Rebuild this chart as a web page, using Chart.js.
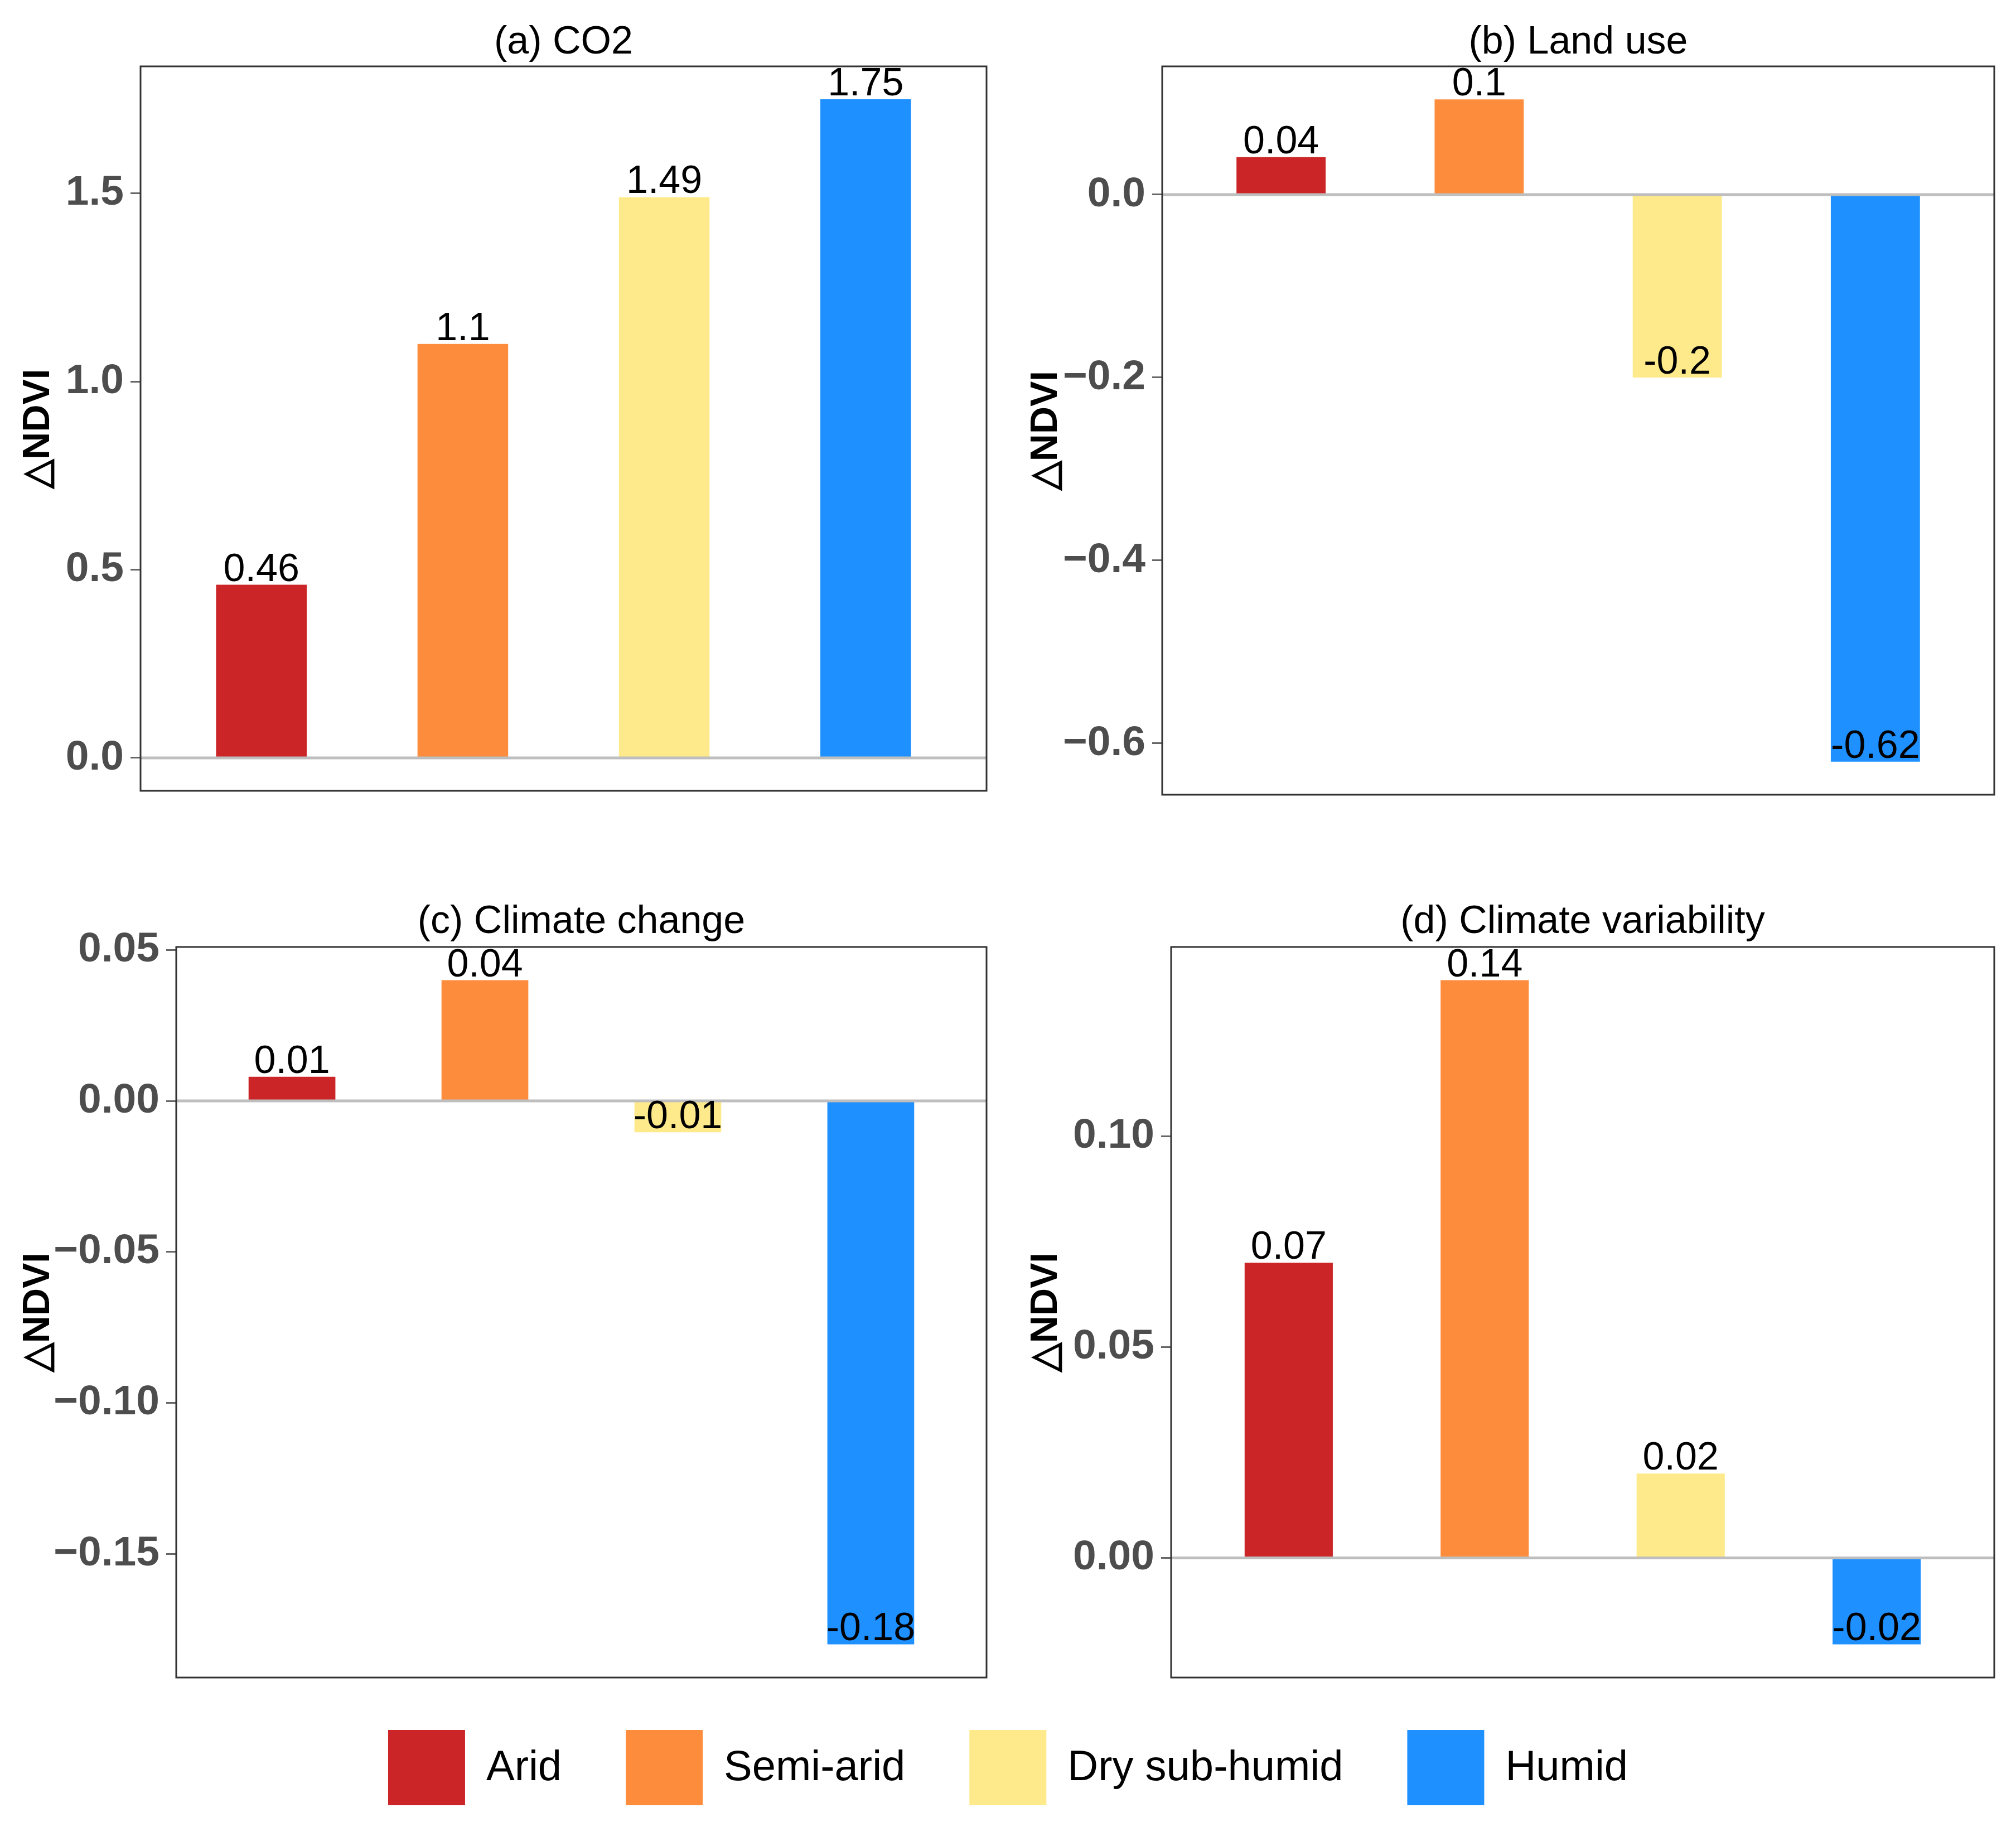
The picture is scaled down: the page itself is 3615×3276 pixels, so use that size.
<!DOCTYPE html>
<html>
<head>
<meta charset="utf-8">
<script src="https://cdn.jsdelivr.net/npm/chart.js@4.4.1/dist/chart.umd.min.js"></script>
<style>
html,body{margin:0;padding:0;background:#ffffff;}
body{width:3615px;height:3276px;position:relative;overflow:hidden;}
canvas{position:absolute;}
</style>
</head>
<body>
<canvas id="cA" width="1800" height="1480" style="left:0px;top:0px;width:1800px;height:1480px"></canvas>
<canvas id="cB" width="1815" height="1487" style="left:1800px;top:0px;width:1815px;height:1487px"></canvas>
<canvas id="cC" width="1800" height="1520" style="left:0px;top:1550px;width:1800px;height:1520px"></canvas>
<canvas id="cD" width="1815" height="1520" style="left:1800px;top:1550px;width:1815px;height:1520px"></canvas>
<canvas id="cE" width="3615" height="500" style="left:0px;top:2987px;width:3615px;height:500px"></canvas>
<script>
// ---------- data ----------
const categories = ['Arid', 'Semi-arid', 'Dry sub-humid', 'Humid'];
const co2Values = [0.46, 1.10, 1.49, 1.75];
const landUseValues = [0.041, 0.104, -0.20, -0.62];
const climateChangeValues = [0.008, 0.040, -0.0104, -0.180];
const climateVariabilityValues = [0.070, 0.137, 0.020, -0.0205];
const co2Ticks = [0, 0.5, 1.0, 1.5];
const landUseTicks = [-0.6, -0.4, -0.2, 0.0];
const climateChangeTicks = [-0.15, -0.10, -0.05, 0.00, 0.05];
const climateVariabilityTicks = [0.00, 0.05, 0.10];
const panelTitles = ['(a) CO2', '(b) Land use', '(c) Climate change', '(d) Climate variability'];
const yAxisTitle = '\u25B3NDVI';

// ---------- styles ----------
const barColors = ['#CB2527', '#FD8D3C', '#FEEA8A', '#1E90FF'];
const FONT = '"Liberation Sans", Arial, Helvetica, sans-serif';

const panels = [
  {id:'cA', title:panelTitles[0], values:co2Values, ticks:co2Ticks, dec:1, axisW:252, padR:31, padB:62, tPadTop:35, tPadBot:0, yTitlePad:28},
  {id:'cB', title:panelTitles[1], values:landUseValues, ticks:landUseTicks, dec:1, axisW:284, padR:39, padB:62, tPadTop:35, tPadBot:0, yTitlePad:35},
  {id:'cC', title:panelTitles[2], values:climateChangeValues, ticks:climateChangeTicks, dec:2, axisW:316, padR:31, padB:62, tPadTop:62, tPadBot:2, yTitlePad:28},
  {id:'cD', title:panelTitles[3], values:climateVariabilityValues, ticks:climateVariabilityTicks, dec:2, axisW:300, padR:39, padB:62, tPadTop:62, tPadBot:2, yTitlePad:35}
];

function fmtTick(v, dec) {
  const s = Number(v).toFixed(dec);
  return s.replace('-', '\u2212');
}
function fmtLabel(v) {
  return String(Math.round(v * 100) / 100);
}

const decorPlugin = {
  id: 'panelDecor',
  afterDatasetsDraw(chart) {
    const ctx = chart.ctx;
    const a = chart.chartArea;
    const y0 = chart.scales.y.getPixelForValue(0);
    ctx.save();
    ctx.strokeStyle = '#BEBEBE';
    ctx.lineWidth = 5;
    ctx.beginPath();
    ctx.moveTo(a.left, y0);
    ctx.lineTo(a.right, y0);
    ctx.stroke();
    const meta = chart.getDatasetMeta(0);
    const ds = chart.data.datasets[0].data;
    ctx.fillStyle = '#000000';
    ctx.font = '70px ' + FONT;
    ctx.textAlign = 'center';
    ctx.textBaseline = 'alphabetic';
    meta.data.forEach((el, i) => {
      ctx.fillText(fmtLabel(ds[i].y), el.x, el.y - 7);
    });
    ctx.restore();
  },
  afterDraw(chart) {
    const ctx = chart.ctx;
    const a = chart.chartArea;
    ctx.save();
    ctx.strokeStyle = '#333333';
    ctx.lineWidth = 3;
    ctx.strokeRect(a.left, a.top, a.right - a.left, a.bottom - a.top);
    ctx.restore();
  }
};

panels.forEach(p => {
  const dmin = Math.min(0, ...p.values);
  const dmax = Math.max(0, ...p.values);
  const ex = (dmax - dmin) * 0.05;
  new Chart(document.getElementById(p.id), {
    type: 'bar',
    data: {
      labels: categories,
      datasets: [{
        label: p.title,
        data: p.values.map((v, i) => ({x: i + 1, y: v})),
        backgroundColor: barColors,
        borderWidth: 0,
        barPercentage: 0.45,
        categoryPercentage: 1.0
      }]
    },
    options: {
      responsive: false,
      animation: false,
      layout: {padding: {left: 0, top: 0, right: p.padR, bottom: p.padB}},
      scales: {
        x: {
          type: 'linear', min: 0.4, max: 4.6, display: false, offset: false,
          grid: {offset: false},
          afterBuildTicks: s => { s.ticks = [1, 2, 3, 4].map(v => ({value: v})); }
        },
        y: {
          type: 'linear', min: dmin - ex, max: dmax + ex,
          afterBuildTicks: s => { s.ticks = p.ticks.map(v => ({value: v})); },
          afterFit: s => { s.width = p.axisW; },
          ticks: {
            font: {family: FONT, size: 75, weight: 'bold'},
            color: '#4D4D4D', padding: 12, autoSkip: false,
            callback: v => fmtTick(v, p.dec)
          },
          grid: {display: true, drawOnChartArea: false, drawTicks: true, tickLength: 18, tickColor: '#666666', tickWidth: 3},
          border: {display: false},
          title: {
            display: true, text: yAxisTitle, color: '#000000',
            font: {family: FONT, size: 68, weight: 'bold'},
            padding: {top: p.yTitlePad, bottom: 0}
          }
        }
      },
      plugins: {
        legend: {display: false},
        tooltip: {enabled: false},
        title: {
          display: true, text: p.title, fullSize: false, align: 'center', color: '#000000',
          font: {family: FONT, size: 70, weight: 'normal', lineHeight: 1.2},
          padding: {top: p.tPadTop, bottom: p.tPadBot}
        }
      }
    },
    plugins: [decorPlugin]
  });
});

// ---------- shared legend ----------
new Chart(document.getElementById('cE'), {
  type: 'bar',
  data: {
    labels: [''],
    datasets: categories.map((c, i) => ({label: c, data: [], backgroundColor: barColors[i], borderWidth: 0}))
  },
  options: {
    responsive: false,
    animation: false,
    layout: {padding: 0},
    scales: {x: {display: false}, y: {display: false}},
    plugins: {
      tooltip: {enabled: false},
      legend: {
        display: true, position: 'top', align: 'center',
        labels: {boxWidth: 138, boxHeight: 139, padding: 115, color: '#000000', font: {family: FONT, size: 76}}
      }
    }
  }
});
</script>
</body>
</html>
